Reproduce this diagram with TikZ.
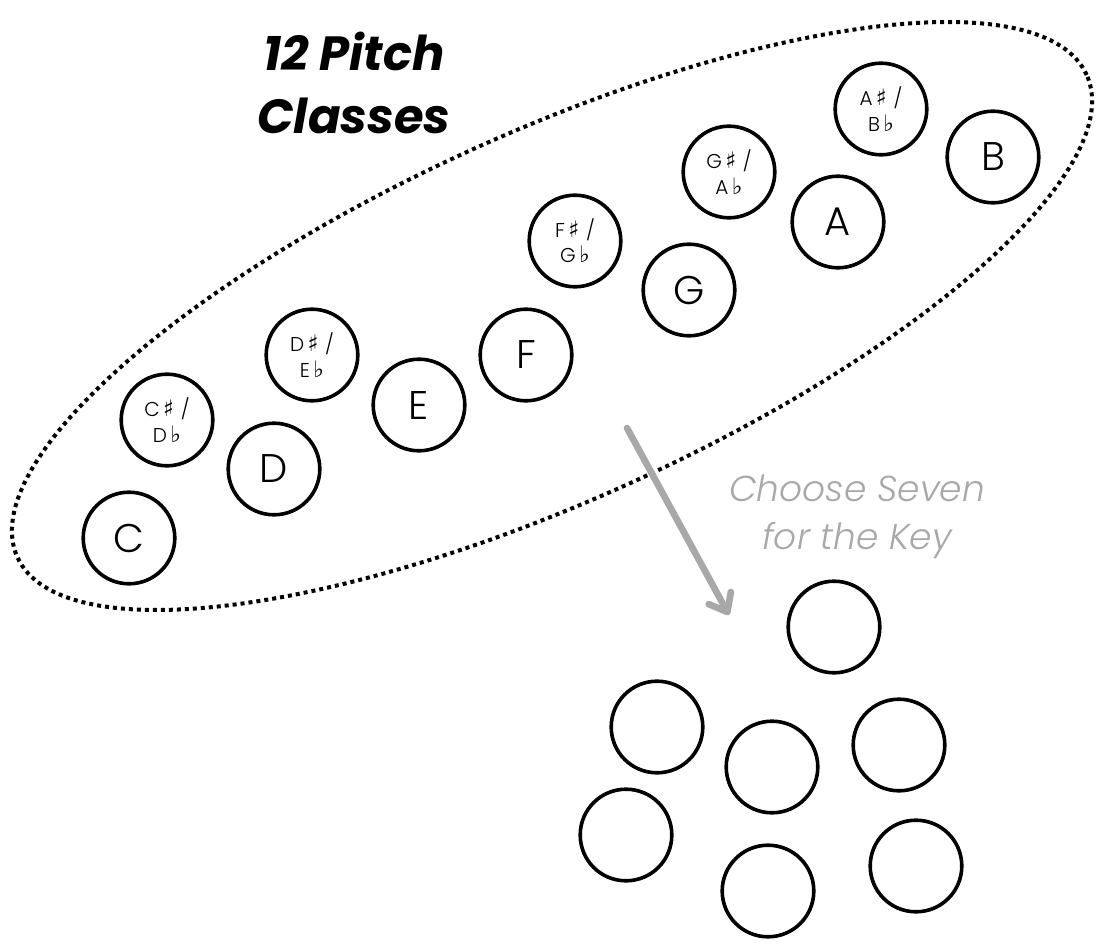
\documentclass[tikz,border=0pt]{standalone}
\usepackage{fontspec}
\setmainfont{Poppins Light}
\newfontfamily\symfont{DejaVu Sans}
\newfontfamily\titlefont{Poppins Bold}
\usetikzlibrary{arrows.meta}
\definecolor{arrowgray}{HTML}{A8A8A8}
\newcommand{\shp}{{\symfont\fontsize{17}{17}\selectfont\char"266F}}
\newcommand{\flt}{{\symfont\fontsize{17}{17}\selectfont\char"266D}}
\tikzset{
  pc/.style={circle, draw=black, line width=2.7pt, minimum size=68.7pt, inner sep=0pt},
  big/.style={pc, font=\fontsize{30}{30}\selectfont},
  acc/.style={pc, align=center, font=\fontsize{15}{19}\selectfont},
  blank/.style={pc},
  dots/.style={line width=3pt, dash pattern=on 3pt off 3pt},
  pick/.style={draw=arrowgray, line width=5pt, line cap=round,
    -{Straight Barb[length=12pt,width=19pt,round]}},
}
\begin{document}
\begin{tikzpicture}[x=0.75pt,y=-0.75pt]
\useasboundingbox (0,0) rectangle (1108,949);
% title
\node[font=\titlefont\itshape\fontsize{36}{47}\selectfont, align=center] (title) at (354,83) {12 Pitch\\Classes};
% ellipse
\draw[dots] (552,316) circle[x radius=439.9pt, y radius=138.4pt, rotate=24.27];
% pitch classes
\node[big] (nC)  at (129,538) {C};
\node[acc] (nCs) at (167,420) {C\,\shp\,\,/\\D\,\flt};
\node[big] (nD)  at (274,469) {D};
\node[acc] (nDs) at (312,355) {D\,\shp\,\,/\\E\,\flt};
\node[big] (nE)  at (419,405) {E};
\node[big] (nF)  at (526,355) {F};
\node[acc] (nFs) at (575,241) {F\,\shp\,\,/\\G\,\flt};
\node[big] (nG)  at (689,290) {G};
\node[acc] (nGs) at (729,172) {G\,\shp\,\,/\\A\,\flt};
\node[big] (nA)  at (838,222) {A};
\node[acc] (nAs) at (881,109) {A\,\shp\,\,/\\B\,\flt};
\node[big] (nB)  at (993,157) {B};
% arrow and caption
\coordinate (arrS) at (627,428);
\coordinate (arrE) at (729,615);
\draw[pick] (arrS) -- (arrE);
\node[text=arrowgray, align=center, font=\itshape\fontsize{27}{36}\selectfont] (cap) at (857,517) {Choose Seven\\for the Key};
% seven chosen
\node[blank] (k1) at (834,627) {};
\node[blank] (k2) at (657,727) {};
\node[blank] (k3) at (772,767) {};
\node[blank] (k4) at (899,745) {};
\node[blank] (k5) at (626,835) {};
\node[blank] (k6) at (768,891) {};
\node[blank] (k7) at (916,866) {};
\end{tikzpicture}
\end{document}
